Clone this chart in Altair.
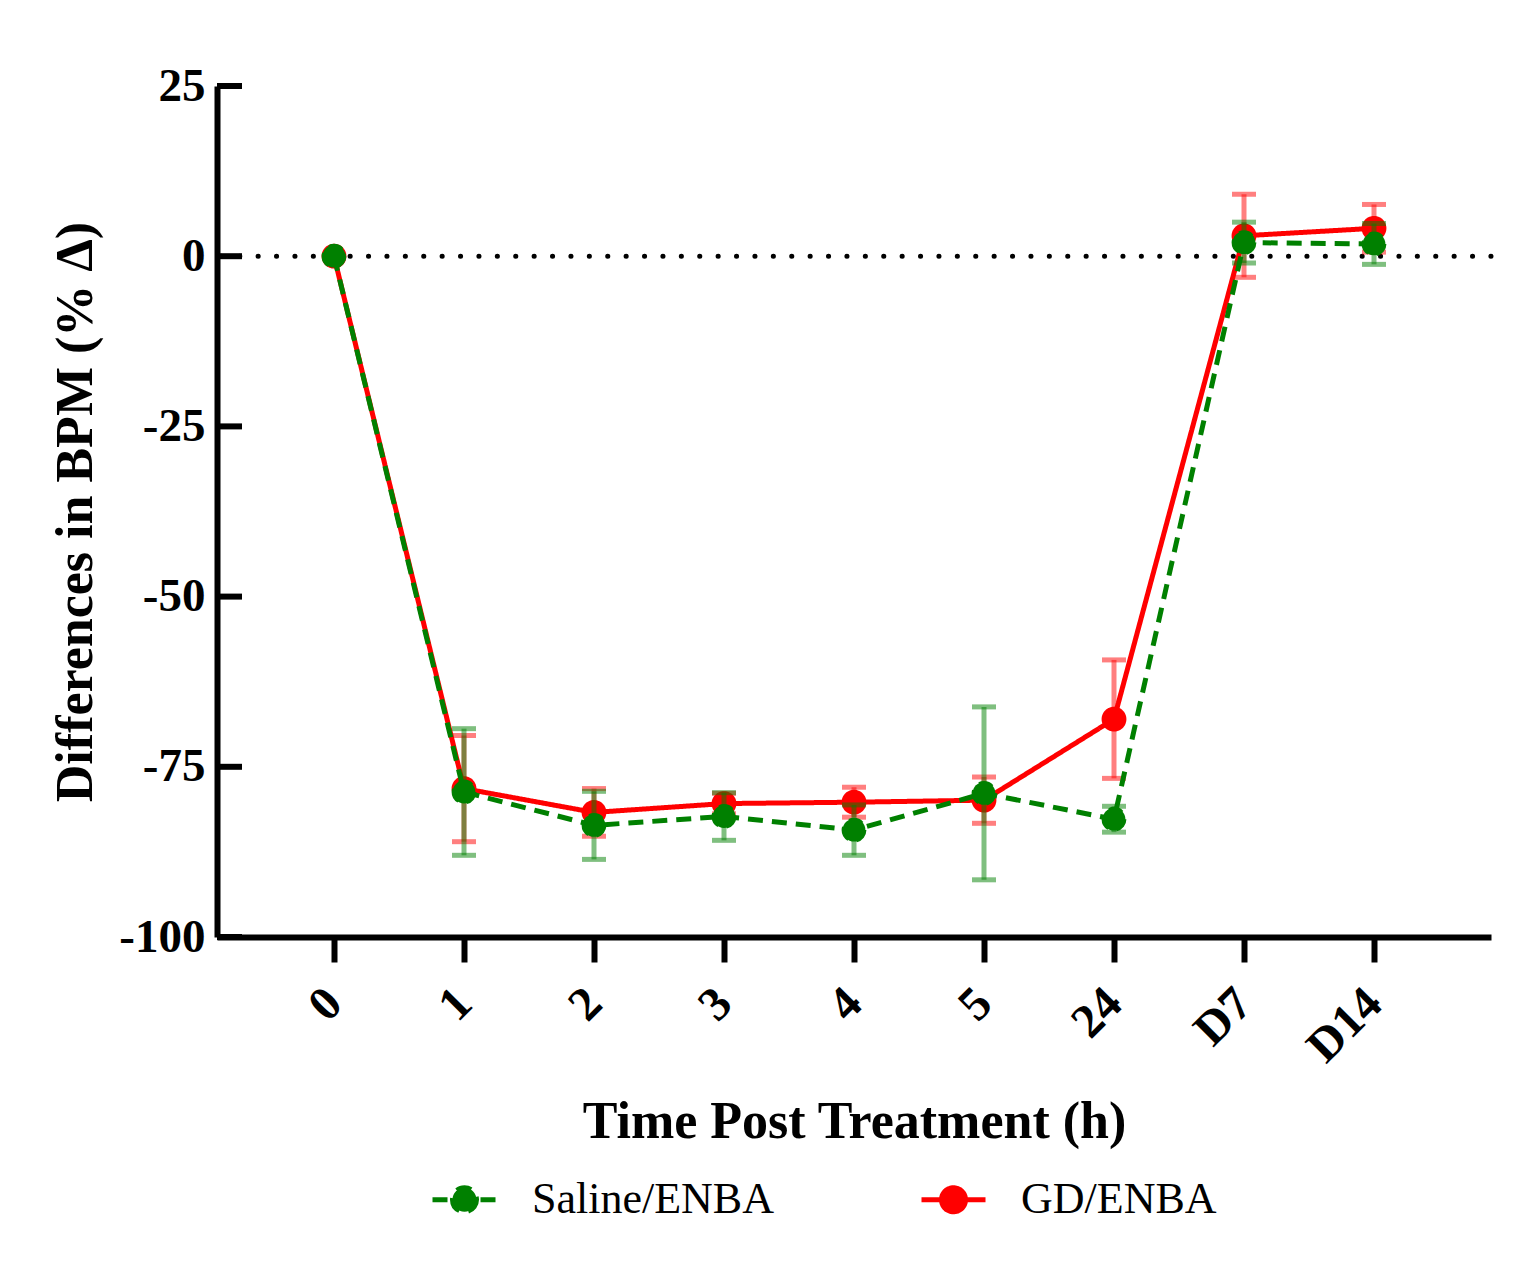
import altair as alt
import pandas as pd

# ---------------- data ----------------
TIME = ["0", "1", "2", "3", "4", "5", "24", "D7", "D14"]
SERIES = ["Saline/ENBA", "GD/ENBA"]
SALINE_MEAN = [0.0, -78.7, -83.6, -82.3, -84.3, -78.9, -82.7, 2.0, 1.8]
SALINE_SEM = [0.0, 9.3, 5.0, 3.5, 3.7, 12.7, 1.9, 3.0, 3.0]
GD_MEAN = [0.0, -78.2, -81.7, -80.4, -80.2, -79.9, -68.0, 3.0, 4.1]
GD_SEM = [0.0, 7.8, 3.5, 1.5, 2.2, 3.4, 8.7, 6.1, 3.5]
Y_TICKS = [-100, -75, -50, -25, 0, 25]
REF_LINE = [0]
COLORS = ["#008000", "#FF0000"]
DASHES = [[15, 9], [1, 0]]

FONT = "Liberation Serif"

rows = []
for s, means, sems in ((SERIES[0], SALINE_MEAN, SALINE_SEM), (SERIES[1], GD_MEAN, GD_SEM)):
    for t, m, e in zip(TIME, means, sems):
        rows.append({"time": t, "series": s, "mean": m, "lo": m - e, "hi": m + e})
df = pd.DataFrame(rows)
ticks_df = pd.DataFrame({"v": Y_TICKS})
ref_df = pd.DataFrame({"v": REF_LINE})

xscale = alt.Scale(type="point", domain=TIME, padding=0.9)
yscale = alt.Scale(domain=[-100, 25], nice=False, zero=False)
cscale = alt.Scale(domain=SERIES, range=COLORS)
dscale = alt.Scale(domain=SERIES, range=DASHES)

x_axis = alt.Axis(
    title="Time Post Treatment (h)", labelAngle=-45, labelAlign="right",
    labelBaseline="middle", labelPadding=34, tickSize=25, tickWidth=6,
    tickColor="black", domainWidth=6, domainColor="black", grid=False,
    labelFont=FONT, labelFontSize=48, labelFontWeight="bold", labelColor="black",
    titleFont=FONT, titleFontSize=52, titleFontWeight="bold", titleColor="black",
    titleY=200, titleBaseline="alphabetic",
)
y_axis = alt.Axis(
    title="Differences in BPM (% Δ)", values=Y_TICKS, ticks=False, labelPadding=12,
    labelExpr="datum.value < 0 ? '-' + abs(datum.value) : '' + datum.value",
    domainWidth=6, domainColor="black", grid=False,
    labelFont=FONT, labelFontSize=47, labelFontWeight="bold", labelColor="black",
    titleFont=FONT, titleFontSize=52, titleFontWeight="bold", titleColor="black",
    titleX=-126, titleBaseline="alphabetic",
)

LEGEND_PATH = ("M-1,0L1,0M0.375,0A0.375,0.375,0,1,1,-0.375,0"
               "A0.375,0.375,0,1,1,0.375,0Z")
legend = alt.Legend(
    title=None, orient="none", legendX=213, legendY=1079, direction="horizontal",
    symbolType=LEGEND_PATH, symbolSize=4096, symbolStrokeWidth=5,
    labelFont=FONT, labelFontSize=44, labelFontWeight="normal", labelColor="black",
    labelOffset=33, columnPadding=137, labelLimit=500, padding=0,
)

X = alt.X("time:N", scale=xscale, axis=x_axis, sort=TIME)
Y = alt.Y("mean:Q", scale=yscale, axis=y_axis)

base = alt.Chart(df)

ref = alt.Chart(ref_df).mark_rule(
    color="black", strokeWidth=5, strokeDash=[0.1, 18.3], strokeCap="round"
).encode(y=alt.Y("v:Q", scale=yscale))

ytick = alt.Chart(ticks_df).mark_rule(color="black", strokeWidth=6).encode(
    y=alt.Y("v:Q", scale=yscale), x=alt.value(0), x2=alt.value(25)
)


def idx(name):
    return SERIES.index(name)


def line_layer(name):
    i = idx(name)
    return base.transform_filter(alt.datum.series == name).mark_line(
        strokeWidth=5, color=COLORS[i], strokeDash=DASHES[i]
    ).encode(x=X, y=Y)


def point_layer(name):
    return base.transform_filter(alt.datum.series == name).mark_point(
        filled=True, size=520, opacity=1
    ).encode(
        x=X, y=Y,
        color=alt.Color("series:N", scale=cscale, legend=legend),
        stroke=alt.Stroke("series:N", scale=cscale, legend=legend),
        strokeDash=alt.StrokeDash("series:N", scale=dscale, legend=legend),
    )


def err_layers(name):
    i = idx(name)
    b = base.transform_filter(alt.datum.series == name)
    bar = b.mark_rule(strokeWidth=5, opacity=0.5, color=COLORS[i]).encode(
        x=X, y=alt.Y("lo:Q", scale=yscale), y2="hi:Q")
    cap_lo = b.mark_tick(size=24, thickness=5, opacity=0.5, orient="horizontal",
                         color=COLORS[i]).encode(x=X, y=alt.Y("lo:Q", scale=yscale))
    cap_hi = b.mark_tick(size=24, thickness=5, opacity=0.5, orient="horizontal",
                         color=COLORS[i]).encode(x=X, y=alt.Y("hi:Q", scale=yscale))
    return [bar, cap_lo, cap_hi]


chart = alt.layer(
    ref,
    line_layer("GD/ENBA"),
    point_layer("GD/ENBA"),
    *err_layers("GD/ENBA"),
    *err_layers("Saline/ENBA"),
    line_layer("Saline/ENBA"),
    point_layer("Saline/ENBA"),
    ytick,
).properties(
    width=1274, height=851,
    background="white",
    autosize=alt.AutoSizeParams(type="none"),
    padding={"left": 209, "top": 78, "right": 20, "bottom": 310},
).configure_view(strokeWidth=0, stroke="transparent")

chart.save("out.html", embed_options={"renderer": "svg", "actions": False})
